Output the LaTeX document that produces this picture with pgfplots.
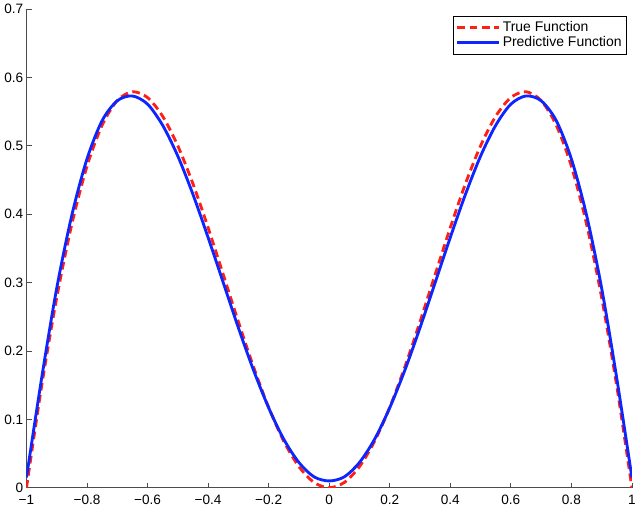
\documentclass[border=0pt]{standalone}
\usepackage{fontspec}
\setmainfont{Liberation Sans}
\usepackage{pgfplots}
\pgfplotsset{compat=1.18}
\definecolor{truered}{rgb}{1,0.12,0.08}
\definecolor{predblue}{rgb}{0.05,0.15,1}
\begin{document}
\begin{tikzpicture}
\begin{axis}[
  scale only axis,
  width=468pt, height=370pt,
  xmin=-1, xmax=1, ymin=0, ymax=0.7,
  axis lines=left,
  axis line style={-, gray!60!black, line width=0.6pt},
  tick style={gray!60!black, line width=0.6pt},
  tick align=inside,
  major tick length=4pt,
  xtick={-1,-0.8,-0.6,-0.4,-0.2,0,0.2,0.4,0.6,0.8,1},
  xticklabels={−1,−0.8,−0.6,−0.4,−0.2,0,0.2,0.4,0.6,0.8,1},
  ytick={0,0.1,0.2,0.3,0.4,0.5,0.6,0.7},
  yticklabels={0,0.1,0.2,0.3,0.4,0.5,0.6,0.7},
  ticklabel style={font=\fontsize{10.5}{12}\selectfont},
  xticklabel style={yshift=-2pt},
  yticklabel style={xshift=1pt},
  legend style={at={(0.992,0.986)}, anchor=north east, draw=black, line width=0.5pt,
    font=\fontsize{10.8}{12}\selectfont, inner sep=2pt, row sep=-1.5pt},
  legend cell align=left,
  legend image code/.code={\draw[#1] (0pt,0pt) -- (32pt,0pt);},
]
\addplot[truered, line width=2.2pt, dash pattern=on 6pt off 3.5pt, smooth] coordinates {
(-1,0) (-0.95,0.14861) (-0.9,0.27812) (-0.85,0.38589) (-0.8,0.47023) (-0.75,0.53033)
(-0.7,0.56631) (-0.65,0.57916) (-0.6,0.57063) (-0.55,0.54323) (-0.5,0.5)
(-0.45,0.44446) (-0.4,0.38042) (-0.35,0.31185) (-0.3,0.24271) (-0.25,0.17678)
(-0.2,0.11756) (-0.15,0.06810) (-0.1,0.03090) (-0.05,0.00782) (0,0)
(0.05,0.00782) (0.1,0.03090) (0.15,0.06810) (0.2,0.11756) (0.25,0.17678)
(0.3,0.24271) (0.35,0.31185) (0.4,0.38042) (0.45,0.44446) (0.5,0.5)
(0.55,0.54323) (0.6,0.57063) (0.65,0.57916) (0.7,0.56631) (0.75,0.53033)
(0.8,0.47023) (0.85,0.38589) (0.9,0.27812) (0.95,0.14861) (1,0)
};
\addlegendentry{True Function}
\addplot[predblue, line width=2.2pt, smooth] coordinates {
(-1,0.015) (-0.95,0.160) (-0.9,0.292) (-0.85,0.399) (-0.8,0.481) (-0.75,0.537)
(-0.7,0.566) (-0.65,0.573) (-0.6,0.561) (-0.55,0.530) (-0.5,0.485)
(-0.45,0.429) (-0.4,0.366) (-0.35,0.300) (-0.3,0.234) (-0.25,0.172)
(-0.2,0.117) (-0.15,0.071) (-0.1,0.037) (-0.05,0.016) (0,0.010)
(0.05,0.016) (0.1,0.037) (0.15,0.071) (0.2,0.117) (0.25,0.172)
(0.3,0.234) (0.35,0.300) (0.4,0.366) (0.45,0.429) (0.5,0.485)
(0.55,0.530) (0.6,0.561) (0.65,0.573) (0.7,0.566) (0.75,0.537)
(0.8,0.481) (0.85,0.399) (0.9,0.292) (0.95,0.160) (1,0.015)
};
\addlegendentry{Predictive Function}
\end{axis}
\end{tikzpicture}
\end{document}
